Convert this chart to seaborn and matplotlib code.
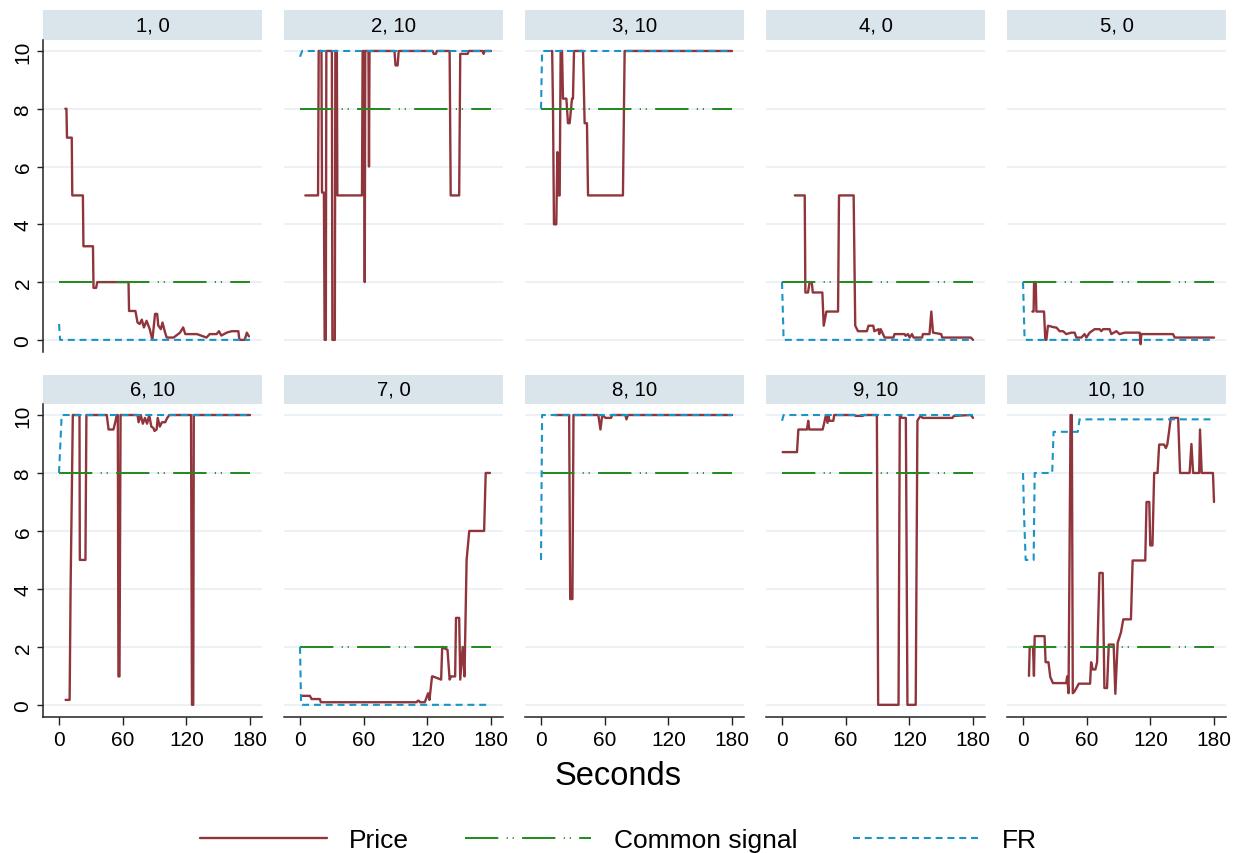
import numpy as np
import pandas as pd
import matplotlib
matplotlib.use("Agg")
import matplotlib.pyplot as plt
import seaborn as sns
from matplotlib.patches import Rectangle
from matplotlib.lines import Line2D

# ---------------- data ----------------
panel_titles = ["1, 0", "2, 10", "3, 10", "4, 0", "5, 0",
                "6, 10", "7, 0", "8, 10", "9, 10", "10, 10"]
common_signal = [2, 8, 8, 2, 2, 8, 2, 8, 8, 2]
x_ticks = [0, 60, 120, 180]
y_ticks = [0, 2, 4, 6, 8, 10]

price_t1 = [6, 7, 7.5, 12, 12.5, 22.5, 23, 32, 32.5, 35, 36, 65.5, 66, 72, 74, 76, 78, 80, 82.5, 85.5, 88,
            90.5, 92.5, 93.5, 96, 97.5, 100, 101.5, 108, 114, 117, 119, 130, 139, 142, 148.5, 150.7, 153,
            158, 162.7, 169, 170, 175, 177, 179]
price_v1 = [8, 8, 7, 7, 5, 5, 3.24, 3.24, 1.8, 1.8, 2, 2, 1, 1, 0.6, 0.55, 0.7, 0.43, 0.66, 0.37, 0,
            0.9, 0.9, 0.5, 0.37, 0.6, 0.25, 0.08, 0.08, 0.25, 0.43, 0.2, 0.2, 0.08, 0.2, 0.2, 0.3, 0.15,
            0.25, 0.3, 0.3, 0, 0, 0.25, 0.12]
fr_t1 = [0, 1, 180]
fr_v1 = [0.55, 0, 0]

price_t2 = [5, 17, 17.6, 20.2, 20.7, 22.5, 23.2, 24.3, 24.8, 30, 30.5, 32.8, 33.3, 34.7, 35.2, 58.4, 59,
            60.5, 61, 61.5, 64.5, 65, 65.5, 89, 90, 92, 93, 125, 126, 128, 129, 141, 142, 150, 151, 158,
            159, 172, 173, 174, 180]
price_v2 = [5, 5, 10, 10, 5.1, 5.1, 0, 0, 10, 10, 0, 0, 10, 10, 5, 5, 10,
            10, 2, 10, 10, 6, 10, 10, 9.5, 9.5, 10, 10, 9.9, 9.9, 10, 10, 5, 5, 9.9, 9.9,
            10, 10, 9.9, 10, 10]
fr_t2 = [0, 2, 180]
fr_v2 = [9.8, 10, 10]

price_t3 = [9.7, 10.5, 11.3, 12.2, 14.4, 15.4, 16.6, 17.6, 18.5, 19.8, 20.7, 23.9, 25.4, 27, 29.2, 30.1,
            31.1, 39.6, 41.1, 43.3, 44.3, 77.2, 78.8, 180]
price_v3 = [10, 10, 8, 4, 4, 6.5, 5, 5, 10, 10, 8.35, 8.35, 7.5, 7.5, 8.35, 8.35,
            10, 10, 7.5, 7.5, 5, 5, 10, 10]
fr_t3 = [0, 1, 180]
fr_v3 = [8, 10, 10]

price_t4 = [12, 21.4, 22, 24.5, 26, 28, 29, 38, 39.3, 41.8, 52.8, 53.7, 67.5, 69, 71.6, 80, 81.5, 86, 87,
            91, 91.6, 93, 96.7, 105, 106, 115.5, 116.5, 118.7, 120.3, 122.5, 124, 132, 132.8, 139, 140.7,
            142.3, 150, 151, 178, 180]
price_v4 = [5, 5, 1.64, 1.64, 2, 2, 1.64, 1.64, 0.49, 0.98, 0.98, 5, 5, 0.49, 0.3, 0.3, 0.49, 0.49, 0.3,
            0.37, 0.2, 0.37, 0.08, 0.08, 0.2, 0.2, 0.14, 0.2, 0.08, 0.2, 0.08, 0.08, 0.2, 0.2, 0.98,
            0.25, 0.2, 0.08, 0.08, 0]
fr_t4 = [0, 1.5, 180]
fr_v4 = [2, 0, 0]

price_t5 = [8.8, 10, 10.4, 12, 12.6, 19.8, 21, 22, 23.5, 29.8, 31.4, 34.5, 37.7, 40.8, 45.5, 48.7, 50.2,
            55, 58, 59.7, 62.8, 67.5, 72.2, 73.8, 75.4, 81.6, 83.2, 88, 91, 95.8, 110, 110.8, 111.5,
            141.3, 143, 180]
price_v5 = [0.98, 0.98, 2, 2, 0.98, 0.98, 0, 0, 0.49, 0.43, 0.43, 0.3, 0.3, 0.2, 0.25, 0.25, 0.08,
            0.08, 0.2, 0.08, 0.25, 0.37, 0.37, 0.3, 0.37, 0.37, 0.2, 0.3, 0.2, 0.25, 0.25, -0.15, 0.2,
            0.2, 0.08, 0.08]
fr_t5 = [0, 1.5, 180]
fr_v5 = [2, 0, 0]

price_t6 = [6.2, 10, 10.9, 13, 19.3, 19.6, 24.9, 25.8, 45, 46.7, 51.3, 53, 54.4, 55.4, 56, 57, 58, 74, 75,
            77, 79, 81, 83, 85, 87, 89, 90, 92, 93, 95, 97, 100, 102, 104, 124.4, 125.3, 126.5, 127, 180]
price_v6 = [0.17, 0.17, 4, 10, 10, 5, 5, 10, 10, 9.5, 9.5, 9.75, 10, 10, 0.98, 0.98, 10, 10, 9.75,
            10, 9.7, 9.9, 9.7, 10, 9.6, 9.55, 9.45, 9.5, 9.9, 9.6, 9.75, 9.75, 9.9, 10, 10, 0, 0, 10, 10]
fr_t6 = [0, 2.5, 180]
fr_v6 = [8, 10, 10]

price_t7 = [2, 9.3, 10.9, 18.7, 19.6, 109.8, 111, 112, 113, 117.6, 119, 120.7, 122, 124.4, 125.3, 133,
            134, 136, 139, 141, 142.4, 146.2, 147, 150, 151, 153.3, 155, 157, 159.5, 173.5, 175, 179]
price_v7 = [0.31, 0.31, 0.2, 0.2, 0.09, 0.09, 0.14, 0.14, 0.09, 0.09, 0.23, 0.4, 0.17, 0.98, 0.98, 0.87,
            2.0, 1.95, 1.9, 0.87, 0.98, 0.98, 3.0, 3.0, 0.87, 2.0, 0.98, 5, 6, 6, 8, 8]
fr_t7 = [0, 1, 180]
fr_v7 = [2, 0, 0]

price_t8 = [13, 26.5, 27.5, 29.6, 30.6, 54, 56, 57.7, 60.8, 66, 67, 79.5, 80.5, 82, 180]
price_v8 = [10, 10, 3.65, 3.65, 10, 10, 9.5, 10, 9.9, 9.9, 10, 10, 9.85, 10, 10]
fr_t8 = [0, 1, 180]
fr_v8 = [5, 10, 10]

price_t9 = [0.6, 14.1, 15.4, 23.5, 24.7, 25.7, 38.3, 39.8, 41.4, 42.9, 43.9, 44.5, 48.3, 49.2, 68, 69.6,
            75.9, 77.5, 89.4, 90.6, 109.8, 111, 113, 116.7, 118.2, 126, 127.6, 129.2, 130.8, 132.4, 160.6,
            162, 178, 180]
price_v9 = [8.72, 8.72, 9.5, 9.5, 9.8, 9.5, 9.5, 9.73, 10, 9.73, 10, 9.8, 9.8, 10, 10, 9.97,
            9.97, 10, 10, 0, 0, 10, 9.9, 9.9, 0, 0, 9.8, 9.9, 9.97, 9.9, 9.9,
            9.97, 10, 9.9]
fr_t9 = [0, 1.5, 180]
fr_v9 = [9.8, 10, 10]

price_t10 = [5.6, 6.3, 9.4, 10.3, 11, 20.3, 21.3, 24, 25.7, 28.2, 40.7, 41.6, 42.9, 44.8, 46, 46.9, 48.5,
             52.6, 63.2, 64.2, 65.7, 68.2, 69.8, 72, 75.1, 76.7, 79.2, 80.8, 85.4, 87, 89.2, 92.3, 94.5,
             101.7, 103.3, 115.2, 116.4, 119, 119.9, 122, 123.6, 126.8, 128.3, 133, 134.6, 136, 139.3,
             146.2, 148, 157, 158.7, 160.3, 166, 166.8, 168.4, 179, 180]
price_v10 = [1.0, 2.0, 2.0, 1.0, 2.37, 2.37, 1.47, 1.47, 0.96, 0.75, 0.75, 0.98, 0.4, 10, 10, 0.4, 0.46,
             0.73, 0.73, 1.47, 1.22, 1.22, 1.47, 4.55, 4.55, 0.58, 0.58, 2.08, 2.08, 0.38, 2.14, 2.5, 2.95,
             2.95, 4.98, 4.98, 7.0, 7.0, 5.5, 5.5, 8, 8, 8.98, 8.98, 8.86, 8.98, 9.9,
             9.9, 8, 8, 9, 8, 8, 9.5, 8, 8, 7]
fr_t10 = [0, 1, 2.5, 10, 11, 27.5, 28.8, 51.6, 53.2, 180]
fr_v10 = [8, 6.5, 5, 5, 8, 8, 9.42, 9.42, 9.85, 9.85]

price_t = [price_t1, price_t2, price_t3, price_t4, price_t5, price_t6, price_t7, price_t8, price_t9, price_t10]
price_v = [price_v1, price_v2, price_v3, price_v4, price_v5, price_v6, price_v7, price_v8, price_v9, price_v10]
fr_t = [fr_t1, fr_t2, fr_t3, fr_t4, fr_t5, fr_t6, fr_t7, fr_t8, fr_t9, fr_t10]
fr_v = [fr_v1, fr_v2, fr_v3, fr_v4, fr_v5, fr_v6, fr_v7, fr_v8, fr_v9, fr_v10]

rows = []
for i in range(10):
    for t, v in zip(price_t[i], price_v[i]):
        rows.append((i, "Price", t, v))
    for t in (0, 180):
        rows.append((i, "Common signal", t, common_signal[i]))
    for t, v in zip(fr_t[i], fr_v[i]):
        rows.append((i, "FR", t, v))
df = pd.DataFrame(rows, columns=["panel", "series", "t", "v"])

# ---------------- style ----------------
sns.set_theme(style="white")
plt.rcParams["font.family"] = ["Liberation Sans", "DejaVu Sans"]
plt.rcParams["lines.scale_dashes"] = False
plt.rcParams["text.color"] = "black"
plt.rcParams["xtick.color"] = "black"
plt.rcParams["ytick.color"] = "black"
plt.rcParams["xtick.labelcolor"] = "black"
plt.rcParams["ytick.labelcolor"] = "black"

c_price = "#90353b"
c_sig = "#1e8a1e"
c_fr = "#1a93c6"
strip_col = "#d9e5eb"
grid_col = "#e8eff2"
axis_col = "#222222"

ls_sig = (0, (24, 6, 0.8, 3.5, 0.8, 6))
ls_fr = (0, (5, 3.5))

styles = {
    "Price": dict(color=c_price, linewidth=1.7, linestyle="-"),
    "Common signal": dict(color=c_sig, linewidth=1.4, linestyle=ls_sig),
    "FR": dict(color=c_fr, linewidth=1.5, linestyle=ls_fr),
}

W, H = 1237, 854
fig = plt.figure(figsize=(W / 100, H / 100), dpi=100)
fig.patch.set_facecolor("white")

ax_w = 219
col_left = [43 + 241 * c for c in range(5)]
row_top = [41, 405]
ax_h = [312, 313]
strip_h = [30, 29]

for i in range(10):
    r, c = divmod(i, 5)
    left = col_left[c] / W
    bottom = 1 - (row_top[r] + ax_h[r]) / H
    ax = fig.add_axes([left, bottom, ax_w / W, ax_h[r] / H])
    ax.set_facecolor("white")
    for y in y_ticks:
        ax.axhline(y, color=grid_col, linewidth=1.2, zorder=0)
    sub = df[df.panel == i]
    for s in ["Price", "Common signal", "FR"]:
        sns.lineplot(data=sub[sub.series == s], x="t", y="v", estimator=None, sort=False,
                     ax=ax, legend=False, **styles[s])
    ax.set_xlim(-15.1, 191.3)
    ax.set_ylim(-0.42, 10.38)
    ax.set_xlabel("")
    ax.set_ylabel("")
    for sp in ax.spines.values():
        sp.set_visible(False)
    ax.set_yticks(y_ticks)
    ax.set_xticks(x_ticks)
    if c == 0:
        ax.spines["left"].set_visible(True)
        ax.spines["left"].set_color(axis_col)
        ax.spines["left"].set_linewidth(1.1)
        ax.tick_params(axis="y", left=True, length=4.5, width=1.0, color=axis_col,
                       labelsize=15, pad=3, labelrotation=90, labelcolor="black")
        for lab in ax.get_yticklabels():
            lab.set_va("center")
    else:
        ax.tick_params(axis="y", left=False, labelleft=False)
    if r == 1:
        ax.spines["bottom"].set_visible(True)
        ax.spines["bottom"].set_color(axis_col)
        ax.spines["bottom"].set_linewidth(1.1)
        ax.tick_params(axis="x", bottom=True, length=6, width=1.0, color=axis_col,
                       labelsize=15, pad=3, labelcolor="black")
    else:
        ax.tick_params(axis="x", bottom=False, labelbottom=False)
    hf = strip_h[r] / ax_h[r]
    ax.add_patch(Rectangle((0, 1.0), 1, hf, transform=ax.transAxes, facecolor=strip_col,
                           edgecolor="none", clip_on=False))
    ax.text(0.5, 1 + hf / 2, panel_titles[i], transform=ax.transAxes, ha="center",
            va="center", fontsize=14.7, color="black")

fig.text(0.5, 1 - 777 / H, "Seconds", ha="center", va="center", fontsize=23.5, color="black")

handles = [Line2D([], [], **styles[s]) for s in ["Price", "Common signal", "FR"]]
leg = fig.legend(handles, ["Price", "Common signal", "FR"], loc="center", ncol=3,
                 bbox_to_anchor=(0.5, 1 - 841 / H), frameon=False, fontsize=19,
                 handlelength=4.8, handletextpad=0.85, columnspacing=2.1)
for txt in leg.get_texts():
    txt.set_color("black")

fig.savefig("out.png", dpi=100, facecolor="white")
